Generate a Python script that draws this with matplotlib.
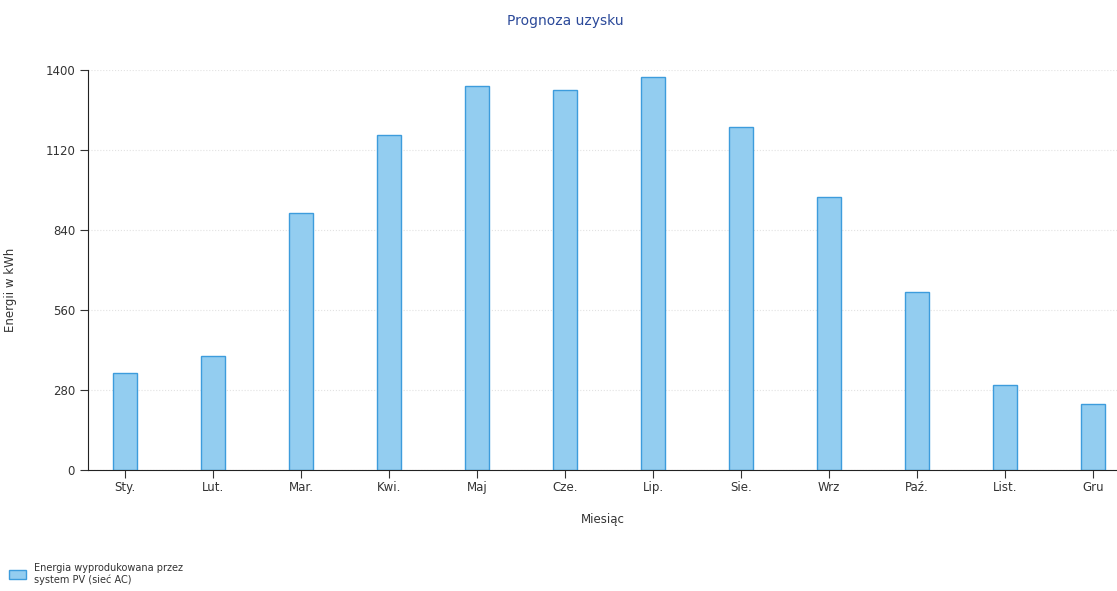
import matplotlib.pyplot as plt

months = ['Sty.', 'Lut.', 'Mar.', 'Kwi.', 'Maj', 'Cze.', 'Lip.', 'Sie.', 'Wrz', 'Paź.', 'List.', 'Gru']
energy = [340, 399, 900, 1172, 1344, 1330, 1375, 1200, 955, 623, 297, 231]
yticks = [0, 280, 560, 840, 1120, 1400]

plt.rcParams['font.family'] = ['DejaVu Sans']

fig = plt.figure(figsize=(11.17, 5.91), dpi=100)
ax = fig.add_axes([0.079, 0.205, 0.921, 0.677])

x = list(range(len(months)))
bars = ax.bar(x, energy, width=0.27, color='#93cdf0', edgecolor='#3d9cdc', linewidth=1.0,
              label='Energia wyprodukowana przez\nsystem PV (sieć AC)')

ax.set_xlim(-0.42, 11.27)
ax.set_ylim(0, 1400)
ax.set_yticks(yticks)
ax.set_xticks(x)
ax.set_xticklabels(months)
ax.tick_params(axis='both', labelsize=8.5, colors='#333333', length=6, direction='out')
ax.tick_params(axis='x', pad=2)
for t in ax.get_xticklabels() + ax.get_yticklabels():
    t.set_color('#333333')

ax.grid(axis='y', color='#e2e2e2', linestyle=':', linewidth=0.8)
ax.set_axisbelow(True)
ax.spines['top'].set_visible(False)
ax.spines['right'].set_visible(False)
ax.spines['left'].set_color('#222222')
ax.spines['bottom'].set_color('#222222')

ax.set_xlabel('Miesiąc', fontsize=8.5, color='#333333', labelpad=14)
ax.set_ylabel('Energii w kWh', fontsize=8.5, color='#333333')
ax.yaxis.set_label_coords(-0.069, 0.45)
fig.text(0.506, 0.965, 'Prognoza uzysku', ha='center', va='center', fontsize=10, color='#2c4a9a')

fig.legend(handles=[bars], loc='lower left', bbox_to_anchor=(0.0, -0.005), frameon=False,
           fontsize=7, handlelength=1.8, handleheight=1.0, labelcolor='#333333')

fig.savefig('out.png', dpi=100)
